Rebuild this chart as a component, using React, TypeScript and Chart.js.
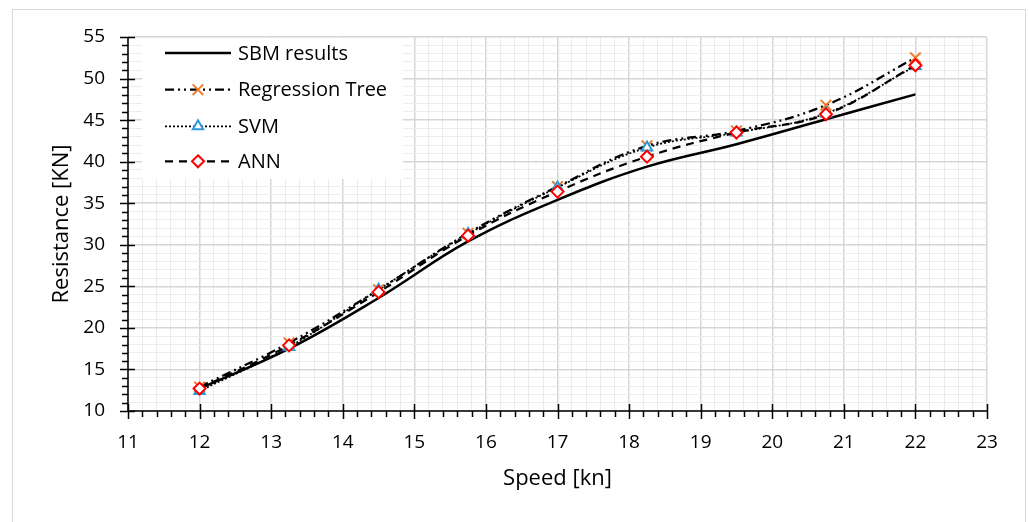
import React, { useEffect, useRef } from 'react';
import { Chart, registerables } from 'chart.js';

Chart.register(...registerables);

// ---- data ----
const speeds = [12, 13.25, 14.5, 15.75, 17, 18.25, 19.5, 20.75, 22];
const sbmResults = [12.7, 17.5, 23.6, 30.4, 35.4, 39.4, 42.1, 45.1, 48.1];
const regressionTree = [12.9, 18.2, 24.6, 31.4, 37.0, 41.9, 43.7, 46.8, 52.5];
const svmValues = [12.4, 17.7, 24.6, 31.3, 36.9, 41.7, 43.5, 45.8, 51.5];
const annValues = [12.7, 17.9, 24.3, 31.1, 36.4, 40.6, 43.5, 45.7, 51.6];

const xTickLabels = [11, 12, 13, 14, 15, 16, 17, 18, 19, 20, 21, 22, 23];
const yTickLabels = [10, 15, 20, 25, 30, 35, 40, 45, 50, 55];

const seriesNames = ['SBM results', 'Regression Tree', 'SVM', 'ANN'];

const FONT = '"Open Sans", "DejaVu Sans", sans-serif';
const ORANGE = '#ED7D31';
const BLUE = '#2F9AD9';
const RED = '#FF0000';
const GRID_MAJOR = '#d6d6d6';
const GRID_MINOR = '#ececec';

const isInt = (v: number) => Math.abs(v - Math.round(v)) < 1e-6;
const isMulti5 = (v: number) => isInt(v) && Math.round(v) % 5 === 0;

const toPts = (arr: number[]) => arr.map((v, i) => ({ x: speeds[i], y: v }));

function drawMarker(ctx: CanvasRenderingContext2D, kind: string, cx: number, cy: number) {
  ctx.save();
  ctx.setLineDash([]);
  if (kind === 'cross') {
    const r = 7.5 * Math.SQRT1_2;
    ctx.strokeStyle = ORANGE;
    ctx.lineWidth = 2;
    ctx.beginPath();
    ctx.moveTo(cx - r, cy - r);
    ctx.lineTo(cx + r, cy + r);
    ctx.moveTo(cx - r, cy + r);
    ctx.lineTo(cx + r, cy - r);
    ctx.stroke();
  } else if (kind === 'triangle') {
    const r = 6;
    ctx.strokeStyle = BLUE;
    ctx.fillStyle = '#fff';
    ctx.lineWidth = 2;
    ctx.beginPath();
    for (let k = 0; k < 3; k++) {
      const a = (k * 2 * Math.PI) / 3;
      const px = cx + Math.sin(a) * r;
      const py = cy - Math.cos(a) * r;
      if (k === 0) ctx.moveTo(px, py);
      else ctx.lineTo(px, py);
    }
    ctx.closePath();
    ctx.fill();
    ctx.stroke();
  } else if (kind === 'diamond') {
    const r = 6;
    ctx.strokeStyle = RED;
    ctx.fillStyle = '#fff';
    ctx.lineWidth = 2;
    ctx.beginPath();
    ctx.moveTo(cx, cy - r);
    ctx.lineTo(cx + r, cy);
    ctx.lineTo(cx, cy + r);
    ctx.lineTo(cx - r, cy);
    ctx.closePath();
    ctx.fill();
    ctx.stroke();
  }
  ctx.restore();
}

const legendStyles = [
  { dash: [] as number[], width: 2.5, marker: '' },
  { dash: [9, 4, 2, 4, 2, 4], width: 2.25, marker: 'cross' },
  { dash: [2, 2], width: 1.75, marker: 'triangle' },
  { dash: [8, 6], width: 2.25, marker: 'diamond' },
];

const decorPlugin = {
  id: 'decor',
  beforeDraw(chart: any) {
    const ctx = chart.ctx as CanvasRenderingContext2D;
    ctx.save();
    ctx.fillStyle = '#ffffff';
    ctx.fillRect(0, 0, chart.width, chart.height);
    ctx.strokeStyle = '#d9d9d9';
    ctx.lineWidth = 1;
    ctx.strokeRect(12.5, 9.5, 1013, 600);
    ctx.restore();
  },
  afterDatasetsDraw(chart: any) {
    const ctx = chart.ctx as CanvasRenderingContext2D;
    const { left, right, top, bottom } = chart.chartArea;
    const xs = chart.scales.x;
    const ys = chart.scales.y;
    ctx.save();
    ctx.strokeStyle = '#000';
    ctx.lineWidth = 1.5;
    ctx.setLineDash([]);
    // axis lines
    ctx.beginPath();
    ctx.moveTo(left, top);
    ctx.lineTo(left, bottom);
    ctx.moveTo(left, bottom);
    ctx.lineTo(right, bottom);
    ctx.stroke();
    // y ticks
    ctx.beginPath();
    for (let v = ys.min; v <= ys.max + 1e-6; v += 1) {
      const py = Math.round(ys.getPixelForValue(v)) + 0.5;
      if (isMulti5(v)) {
        ctx.moveTo(left - 8, py);
        ctx.lineTo(left + 7, py);
      } else {
        ctx.moveTo(left - 6, py);
        ctx.lineTo(left, py);
      }
    }
    // x ticks
    for (let i = 0; i <= 60; i++) {
      const v = xs.min + i * 0.2;
      const px = Math.round(xs.getPixelForValue(v)) + 0.5;
      if (i % 5 === 0) {
        ctx.moveTo(px, bottom - 7);
        ctx.lineTo(px, bottom + 8);
      } else {
        ctx.moveTo(px, bottom);
        ctx.lineTo(px, bottom + 6);
      }
    }
    ctx.stroke();

    // legend box
    ctx.fillStyle = '#ffffff';
    ctx.fillRect(142, 38, 261, 141);
    const rows = [53, 89.7, 126.3, 161.3];
    ctx.font = `20px ${FONT}`;
    ctx.textBaseline = 'middle';
    ctx.textAlign = 'left';
    seriesNames.forEach((name, i) => {
      const st = legendStyles[i];
      const y = rows[i];
      ctx.strokeStyle = '#000';
      ctx.lineWidth = st.width;
      ctx.setLineDash(st.dash);
      ctx.beginPath();
      ctx.moveTo(165, y);
      ctx.lineTo(231, y);
      ctx.stroke();
      ctx.setLineDash([]);
      if (st.marker) drawMarker(ctx, st.marker, 198, y);
      ctx.fillStyle = '#000';
      ctx.fillText(name, 238, y + 1);
    });
    ctx.restore();
  },
};

export default function App() {
  const canvasRef = useRef<HTMLCanvasElement | null>(null);

  useEffect(() => {
    document.body.style.margin = '0';
    const canvas = canvasRef.current;
    if (!canvas) return;

    const chart = new Chart(canvas, {
      type: 'line',
      data: {
        datasets: [
          {
            label: seriesNames[0],
            data: toPts(sbmResults),
            borderColor: '#000',
            borderWidth: 2.5,
            pointRadius: 0,
            tension: 0.4,
            fill: false,
            order: 4,
          },
          {
            label: seriesNames[1],
            data: toPts(regressionTree),
            borderColor: '#000',
            borderWidth: 2.25,
            borderDash: [9, 4, 2, 4, 2, 4],
            pointStyle: 'crossRot',
            pointRadius: 7.5,
            pointBorderColor: ORANGE,
            pointBorderWidth: 2,
            tension: 0.4,
            fill: false,
            order: 3,
          },
          {
            label: seriesNames[2],
            data: toPts(svmValues),
            borderColor: '#000',
            borderWidth: 1.75,
            borderDash: [2, 2],
            pointStyle: 'triangle',
            pointRadius: 6,
            pointBorderColor: BLUE,
            pointBackgroundColor: '#fff',
            pointBorderWidth: 2,
            tension: 0.4,
            fill: false,
            order: 2,
          },
          {
            label: seriesNames[3],
            data: toPts(annValues),
            borderColor: '#000',
            borderWidth: 2.25,
            borderDash: [8, 6],
            pointStyle: 'rectRot',
            pointRadius: 6,
            pointBorderColor: RED,
            pointBackgroundColor: '#fff',
            pointBorderWidth: 2,
            tension: 0.4,
            fill: false,
            order: 1,
          },
        ],
      },
      options: {
        animation: false,
        responsive: false,
        maintainAspectRatio: false,
        layout: { padding: { top: 37, right: 42, left: 0, bottom: 0 } },
        plugins: {
          legend: { display: false },
          tooltip: { enabled: false },
        },
        scales: {
          x: {
            type: 'linear',
            min: xTickLabels[0],
            max: xTickLabels[xTickLabels.length - 1],
            afterFit: (scale: any) => {
              scale.height = 111;
            },
            ticks: {
              stepSize: 0.2,
              autoSkip: false,
              maxRotation: 0,
              padding: 20,
              color: '#000',
              font: { family: FONT, size: 19 },
              callback: (v: any) => {
                const n = Number(v);
                const hit = xTickLabels.find((t) => Math.abs(t - n) < 1e-6);
                return hit !== undefined ? String(hit) : '';
              },
            },
            grid: {
              drawTicks: false,
              lineWidth: (c: any) => (c.tick && isInt(c.tick.value) ? 1.5 : 1),
              color: (c: any) => (c.tick && isInt(c.tick.value) ? GRID_MAJOR : GRID_MINOR),
            },
            border: { display: false },
            title: {
              display: true,
              text: 'Speed [kn]',
              color: '#000',
              font: { family: FONT, size: 22 },
              padding: { top: 0, bottom: 30 },
            },
          },
          y: {
            type: 'linear',
            min: yTickLabels[0],
            max: yTickLabels[yTickLabels.length - 1],
            afterFit: (scale: any) => {
              scale.width = 128;
            },
            ticks: {
              stepSize: 1,
              autoSkip: false,
              padding: 23,
              color: '#000',
              font: { family: FONT, size: 19 },
              callback: (v: any) => {
                const n = Number(v);
                const hit = yTickLabels.find((t) => Math.abs(t - n) < 1e-6);
                return hit !== undefined ? String(hit) : '';
              },
            },
            grid: {
              drawTicks: false,
              lineWidth: (c: any) => (c.tick && isMulti5(c.tick.value) ? 1.5 : 1),
              color: (c: any) => (c.tick && isMulti5(c.tick.value) ? GRID_MAJOR : GRID_MINOR),
            },
            border: { display: false },
            title: {
              display: true,
              text: 'Resistance [KN]',
              color: '#000',
              font: { family: FONT, size: 22 },
              padding: { top: 49, bottom: 0 },
            },
          },
        },
      },
      plugins: [decorPlugin],
    });

    return () => {
      chart.destroy();
    };
  }, []);

  return (
    <div style={{ width: 1029, height: 522 }}>
      <canvas ref={canvasRef} width={1029} height={522} style={{ display: 'block', width: 1029, height: 522 }} />
    </div>
  );
}
